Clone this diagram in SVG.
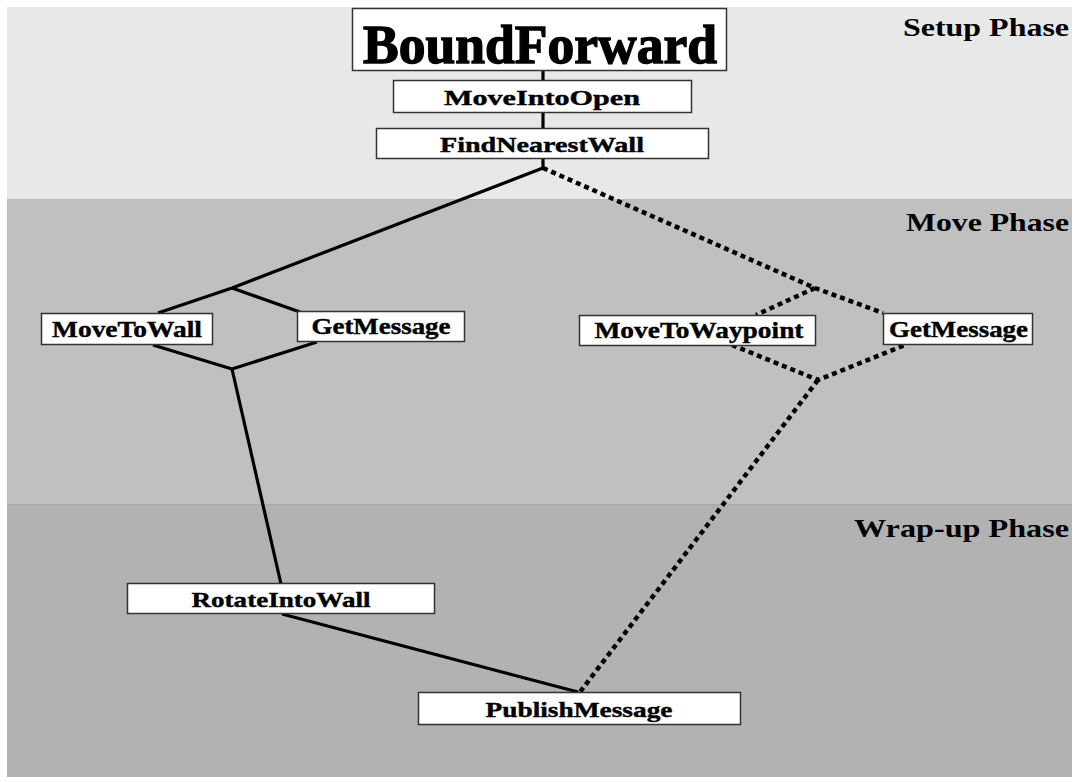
<svg xmlns="http://www.w3.org/2000/svg" width="1078" height="782" viewBox="0 0 1078 782">
<style>
.box{fill:#ffffff;stroke:#333333;stroke-width:1.5}
.lbl{font-family:"Liberation Serif","Times New Roman",serif;font-weight:bold;fill:#000;stroke:#000;stroke-width:0.4;text-anchor:middle}
.big{stroke-width:1.4}
.ph{font-family:"Liberation Serif","Times New Roman",serif;font-weight:bold;fill:#000;text-anchor:end;font-size:26px}
.solid{fill:none;stroke:#000;stroke-width:3.2;stroke-linejoin:round}
.dot{fill:none;stroke:#000;stroke-width:4.5;stroke-dasharray:5 4}
</style>
<rect x="0" y="0" width="1078" height="782" fill="#ffffff"/>
<g id="bands">
<rect x="7" y="7" width="1065" height="192" fill="#e8e8e8"/>
<rect x="7" y="199" width="1065" height="305" fill="#c0c0c0"/>
<rect x="7" y="504" width="1065" height="273" fill="#b2b2b2"/>
<line x1="7" y1="199.5" x2="1072" y2="199.5" stroke="#b8b8b8" stroke-width="1"/>
<line x1="7" y1="504.5" x2="1072" y2="504.5" stroke="#aaaaaa" stroke-width="1"/>
</g>
<g id="phase-labels">
<text class="ph" x="1069" y="36" textLength="166" lengthAdjust="spacingAndGlyphs">Setup Phase</text>
<text class="ph" x="1069" y="231" textLength="163" lengthAdjust="spacingAndGlyphs">Move Phase</text>
<text class="ph" x="1069" y="537" textLength="215" lengthAdjust="spacingAndGlyphs">Wrap-up Phase</text>
</g>
<g id="connectors">
<line class="solid" x1="543" y1="71" x2="543" y2="80"/>
<line class="solid" x1="543" y1="112" x2="543" y2="128"/>
<line class="solid" x1="543" y1="159" x2="543" y2="168"/>
<polyline class="solid" points="543,168 232,288 158,313"/>
<line class="solid" x1="232" y1="288" x2="300" y2="312"/>
<polyline class="solid" points="153,345 232,369 317,342"/>
<line class="solid" x1="232" y1="369" x2="281" y2="584"/>
<line class="solid" x1="282" y1="614" x2="578" y2="692"/>
<polyline class="dot" points="543,168 815,288 883,313"/>
<line class="dot" x1="815" y1="288" x2="756" y2="315"/>
<polyline class="dot" points="732,345 818,380 905,345"/>
<line class="dot" x1="818" y1="380" x2="580" y2="692"/>
</g>
<g id="node-boundforward">
<rect class="box" x="352.5" y="8.5" width="374" height="62"/>
<text class="lbl big" x="540" y="63" font-size="54" textLength="354" lengthAdjust="spacingAndGlyphs">BoundForward</text>
</g>
<g id="node-moveintoopen">
<rect class="box" x="393.5" y="80.5" width="298" height="32"/>
<text class="lbl" x="542" y="105" font-size="22" textLength="196" lengthAdjust="spacingAndGlyphs">MoveIntoOpen</text>
</g>
<g id="node-findnearestwall">
<rect class="box" x="376.5" y="128.5" width="332" height="30"/>
<text class="lbl" x="542" y="151.5" font-size="22" textLength="204" lengthAdjust="spacingAndGlyphs">FindNearestWall</text>
</g>
<g id="node-movetowall">
<rect class="box" x="41.5" y="313.5" width="171" height="31"/>
<text class="lbl" x="127" y="336.5" font-size="23" textLength="150" lengthAdjust="spacingAndGlyphs">MoveToWall</text>
</g>
<g id="node-getmessage-left">
<rect class="box" x="297.5" y="311.5" width="167" height="30"/>
<text class="lbl" x="381" y="334" font-size="23" textLength="139" lengthAdjust="spacingAndGlyphs">GetMessage</text>
</g>
<g id="node-movetowaypoint">
<rect class="box" x="579.5" y="315.5" width="236" height="30"/>
<text class="lbl" x="699" y="338" font-size="23" textLength="209" lengthAdjust="spacingAndGlyphs">MoveToWaypoint</text>
</g>
<g id="node-getmessage-right">
<rect class="box" x="883.5" y="313.5" width="149" height="31"/>
<text class="lbl" x="958.5" y="336.5" font-size="23" textLength="139" lengthAdjust="spacingAndGlyphs">GetMessage</text>
</g>
<g id="node-rotateintowall">
<rect class="box" x="127.5" y="583.5" width="307" height="30"/>
<text class="lbl" x="281" y="606.5" font-size="22" textLength="179" lengthAdjust="spacingAndGlyphs">RotateIntoWall</text>
</g>
<g id="node-publishmessage">
<rect class="box" x="418.5" y="692.5" width="322" height="32"/>
<text class="lbl" x="579" y="717" font-size="22" textLength="187" lengthAdjust="spacingAndGlyphs">PublishMessage</text>
</g>
</svg>
